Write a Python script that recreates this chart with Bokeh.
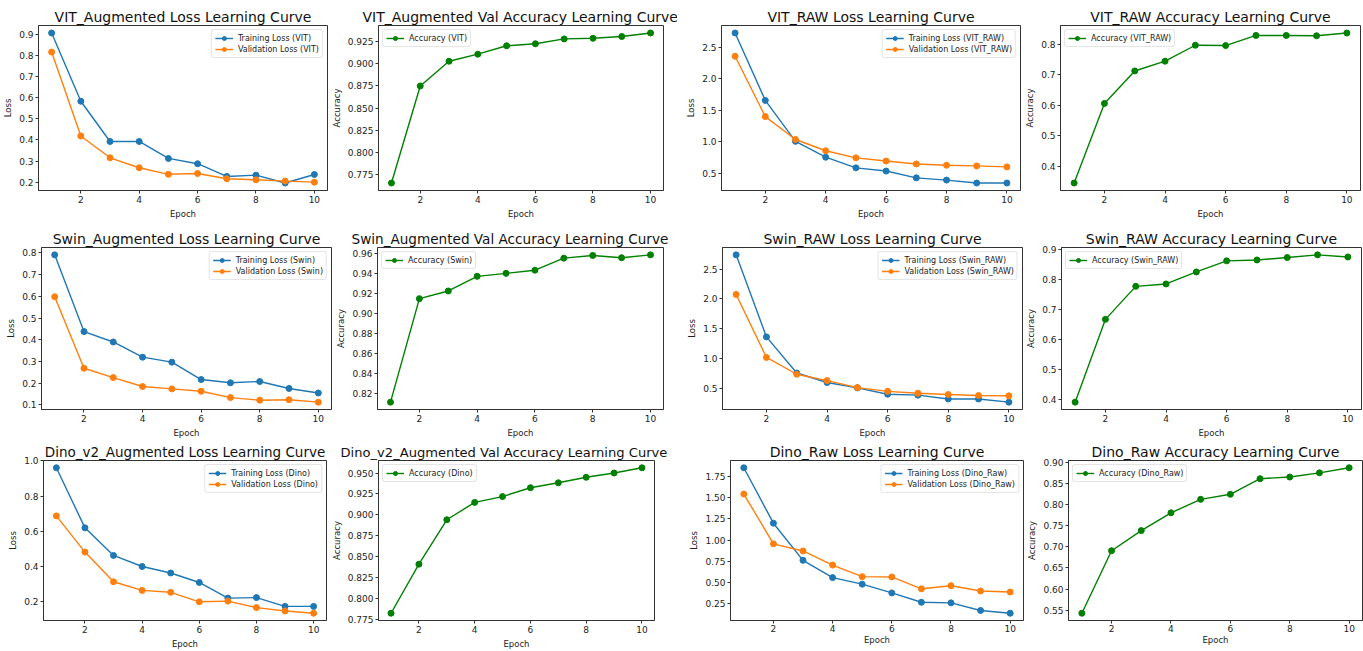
from bokeh.plotting import figure
from bokeh.models import Range1d, FixedTicker, PrintfTickFormatter
from bokeh.layouts import row, column
from bokeh.embed import file_html
from bokeh.resources import INLINE

# ---------------- data ----------------
epochs = [1, 2, 3, 4, 5, 6, 7, 8, 9, 10]
x_ticks = [2, 4, 6, 8, 10]

vit_aug_train_loss = [0.905, 0.583, 0.393, 0.393, 0.313, 0.288, 0.228, 0.234, 0.197, 0.237]
vit_aug_val_loss = [0.815, 0.419, 0.316, 0.269, 0.238, 0.242, 0.217, 0.212, 0.206, 0.201]
vit_aug_acc = [0.765, 0.875, 0.903, 0.911, 0.9205, 0.9228, 0.9283, 0.929, 0.931, 0.935]

vit_raw_train_loss = [2.726, 1.654, 1.003, 0.751, 0.582, 0.531, 0.423, 0.387, 0.341, 0.341]
vit_raw_val_loss = [2.356, 1.397, 1.033, 0.854, 0.741, 0.690, 0.644, 0.623, 0.613, 0.597]
vit_raw_acc = [0.346, 0.606, 0.712, 0.744, 0.796, 0.795, 0.828, 0.828, 0.827, 0.836]

swin_aug_train_loss = [0.791, 0.438, 0.390, 0.320, 0.297, 0.217, 0.202, 0.208, 0.176, 0.155]
swin_aug_val_loss = [0.598, 0.269, 0.226, 0.185, 0.174, 0.163, 0.134, 0.122, 0.124, 0.113]
swin_aug_acc = [0.811, 0.915, 0.9227, 0.9374, 0.9404, 0.9436, 0.9557, 0.9584, 0.9561, 0.959]

swin_raw_train_loss = [2.739, 1.365, 0.760, 0.601, 0.511, 0.405, 0.389, 0.325, 0.325, 0.272]
swin_raw_val_loss = [2.076, 1.020, 0.739, 0.633, 0.516, 0.453, 0.421, 0.400, 0.383, 0.378]
swin_raw_acc = [0.392, 0.668, 0.778, 0.786, 0.826, 0.863, 0.866, 0.874, 0.883, 0.876]

dino_aug_train_loss = [0.961, 0.619, 0.462, 0.399, 0.362, 0.308, 0.219, 0.222, 0.172, 0.172]
dino_aug_val_loss = [0.687, 0.481, 0.312, 0.263, 0.252, 0.198, 0.202, 0.165, 0.146, 0.133]
dino_aug_acc = [0.782, 0.8408, 0.894, 0.9148, 0.9218, 0.9324, 0.9383, 0.9449, 0.950, 0.9563]

dino_raw_train_loss = [1.858, 1.200, 0.759, 0.554, 0.476, 0.372, 0.261, 0.254, 0.164, 0.131]
dino_raw_val_loss = [1.546, 0.955, 0.870, 0.703, 0.565, 0.562, 0.421, 0.458, 0.395, 0.383]
dino_raw_acc = [0.5426, 0.691, 0.7388, 0.781, 0.813, 0.825, 0.862, 0.866, 0.876, 0.888]

vit_aug_loss_ticks = [0.2, 0.3, 0.4, 0.5, 0.6, 0.7, 0.8, 0.9]
vit_aug_acc_ticks = [0.775, 0.800, 0.825, 0.850, 0.875, 0.900, 0.925]
vit_raw_loss_ticks = [0.5, 1.0, 1.5, 2.0, 2.5]
vit_raw_acc_ticks = [0.4, 0.5, 0.6, 0.7, 0.8]
swin_aug_loss_ticks = [0.1, 0.2, 0.3, 0.4, 0.5, 0.6, 0.7, 0.8]
swin_aug_acc_ticks = [0.82, 0.84, 0.86, 0.88, 0.90, 0.92, 0.94, 0.96]
swin_raw_loss_ticks = [0.5, 1.0, 1.5, 2.0, 2.5]
swin_raw_acc_ticks = [0.4, 0.5, 0.6, 0.7, 0.8, 0.9]
dino_aug_loss_ticks = [0.2, 0.4, 0.6, 0.8, 1.0]
dino_aug_acc_ticks = [0.775, 0.800, 0.825, 0.850, 0.875, 0.900, 0.925, 0.950]
dino_raw_loss_ticks = [0.25, 0.50, 0.75, 1.00, 1.25, 1.50, 1.75]
dino_raw_acc_ticks = [0.55, 0.60, 0.65, 0.70, 0.75, 0.80, 0.85, 0.90]

BLUE = "#1f77b4"
ORANGE = "#ff7f0e"
GREEN = "#008000"
FONT = "DejaVu Sans"
DARK = "#333333"


def padded(vals):
    lo, hi = min(vals), max(vals)
    m = (hi - lo) * 0.05
    return Range1d(lo - m, hi + m)


def base(title, yvals, yticks, fmt, ylabel, w, h, bl, br, bt, bb,
         tight_bottom=False, tsize="14px", tleft=None):
    xm = (max(epochs) - min(epochs)) * 0.05
    p = figure(width=w, height=h, title=title,
               x_range=Range1d(min(epochs) - xm, max(epochs) + xm),
               y_range=padded(yvals),
               output_backend="svg", toolbar_location=None,
               min_border_left=bl, min_border_right=br,
               min_border_top=bt, min_border_bottom=bb)
    p.xaxis.ticker = FixedTicker(ticks=x_ticks)
    p.yaxis.ticker = FixedTicker(ticks=yticks)
    p.yaxis.formatter = PrintfTickFormatter(format=fmt)
    p.xaxis.axis_label = "Epoch"
    p.yaxis.axis_label = ylabel
    for ax in p.axis:
        ax.axis_label_text_font = FONT
        ax.axis_label_text_font_size = "8.5px"
        ax.axis_label_text_font_style = "normal"
        ax.axis_label_text_color = "#222222"
        ax.major_label_text_font = FONT
        ax.major_label_text_font_size = "9px"
        ax.major_label_text_color = "#222222"
        ax.major_tick_out = 3
        ax.major_tick_in = 0
        ax.minor_tick_out = 0
        ax.minor_tick_in = 0
        ax.axis_line_color = DARK
        ax.major_tick_line_color = DARK
        ax.major_label_standoff = 2
        ax.axis_label_standoff = 3
    if tight_bottom:
        p.xaxis.major_label_standoff = 1
        p.xaxis.axis_label_standoff = 0
    p.xgrid.visible = False
    p.ygrid.visible = False
    p.outline_line_color = DARK
    p.outline_line_alpha = 1
    p.title.text_font = FONT
    p.title.text_font_size = tsize
    p.title.text_font_style = "normal"
    p.title.text_color = "#111111"
    p.title.standoff = 2
    if tleft is None:
        p.title.align = "center"
    else:
        # long titles: left aligned, shifted so that the whole text stays on the canvas
        p.title.align = "left"
        p.title.offset = tleft
    return p


def style_legend(p, loc):
    lg = p.legend[0]
    lg.location = loc
    lg.label_text_font = FONT
    lg.label_text_font_size = "8px"
    lg.label_text_color = "#222222"
    lg.label_height = 10
    lg.glyph_height = 10
    lg.glyph_width = 18
    lg.label_standoff = 5
    lg.padding = 3
    lg.spacing = 1
    lg.margin = 4
    lg.border_line_color = "#cccccc"
    lg.background_fill_alpha = 0.85
    if "border_radius" in lg.properties():
        lg.border_radius = 3


def loss_panel(title, train, val, tag, yticks, fmt, w, h, bl, br, bt, bb, **kw):
    p = base(title, train + val, yticks, fmt, "Loss", w, h, bl, br, bt, bb, **kw)
    p.line(epochs, train, color=BLUE, line_width=1.4, legend_label="Training Loss (%s)" % tag)
    p.scatter(epochs, train, color=BLUE, size=6, legend_label="Training Loss (%s)" % tag)
    p.line(epochs, val, color=ORANGE, line_width=1.4, legend_label="Validation Loss (%s)" % tag)
    p.scatter(epochs, val, color=ORANGE, size=6, legend_label="Validation Loss (%s)" % tag)
    style_legend(p, "top_right")
    return p


def acc_panel(title, acc, tag, yticks, fmt, w, h, bl, br, bt, bb, **kw):
    p = base(title, acc, yticks, fmt, "Accuracy", w, h, bl, br, bt, bb, **kw)
    p.line(epochs, acc, color=GREEN, line_width=1.4, legend_label="Accuracy (%s)" % tag)
    p.scatter(epochs, acc, color=GREEN, size=6, legend_label="Accuracy (%s)" % tag)
    style_legend(p, "top_left")
    return p


# Row 1 (height 221)
p1 = loss_panel("VIT_Augmented Loss Learning Curve", vit_aug_train_loss, vit_aug_val_loss, "VIT",
                vit_aug_loss_ticks, "%.1f", 328, 221, 38, 1, 25, 28)
p2 = acc_panel("VIT_Augmented Val Accuracy Learning Curve", vit_aug_acc, "VIT",
               vit_aug_acc_ticks, "%.3f", 349, 221, 45, 14, 25, 28, tleft=-16)
p3 = loss_panel("VIT_RAW Loss Learning Curve", vit_raw_train_loss, vit_raw_val_loss, "VIT_RAW",
                vit_raw_loss_ticks, "%.1f", 345, 221, 44, 2, 22, 29)
p4 = acc_panel("VIT_RAW Accuracy Learning Curve", vit_raw_acc, "VIT_RAW",
               vit_raw_acc_ticks, "%.1f", 341, 221, 37, 3, 21, 29)

# Row 2 (height 219)
p5 = loss_panel("Swin_Augmented Loss Learning Curve", swin_aug_train_loss, swin_aug_val_loss, "Swin",
                swin_aug_loss_ticks, "%.1f", 333, 219, 41, 2, 26, 28)
p6 = acc_panel("Swin_Augmented Val Accuracy Learning Curve", swin_aug_acc, "Swin",
               swin_aug_acc_ticks, "%.2f", 344, 219, 40, 14, 26, 28, tsize="13.6px", tleft=-26)
p7 = loss_panel("Swin_RAW Loss Learning Curve", swin_raw_train_loss, swin_raw_val_loss, "Swin_RAW",
                swin_raw_loss_ticks, "%.1f", 346, 219, 45, 1, 18, 29)
p8 = acc_panel("Swin_RAW Accuracy Learning Curve", swin_raw_acc, "Swin_RAW",
               swin_raw_acc_ticks, "%.1f", 340, 219, 37, 2, 18, 29)

# Row 3 (height 211)
p9 = loss_panel("Dino_v2_Augmented Loss Learning Curve", dino_aug_train_loss, dino_aug_val_loss, "Dino",
                dino_aug_loss_ticks, "%.1f", 328, 211, 43, 2, 20, 28, tsize="13.5px")
p10 = acc_panel("Dino_v2_Augmented Val Accuracy Learning Curve", dino_aug_acc, "Dino",
                dino_aug_acc_ticks, "%.3f", 349, 211, 44, 23, 20, 28, tsize="13.1px", tleft=-38)
p11 = loss_panel("Dino_Raw Loss Learning Curve", dino_raw_train_loss, dino_raw_val_loss, "Dino_Raw",
                 dino_raw_loss_ticks, "%.2f", 347, 211, 53, 1, 18, 23, tight_bottom=True)
p12 = acc_panel("Dino_Raw Accuracy Learning Curve", dino_raw_acc, "Dino_Raw",
                dino_raw_acc_ticks, "%.2f", 339, 211, 43, 1, 18, 23, tight_bottom=True)

layout = column(row(p1, p2, p3, p4), row(p5, p6, p7, p8), row(p9, p10, p11, p12))

open("out.html", "w").write(file_html(layout, INLINE))
